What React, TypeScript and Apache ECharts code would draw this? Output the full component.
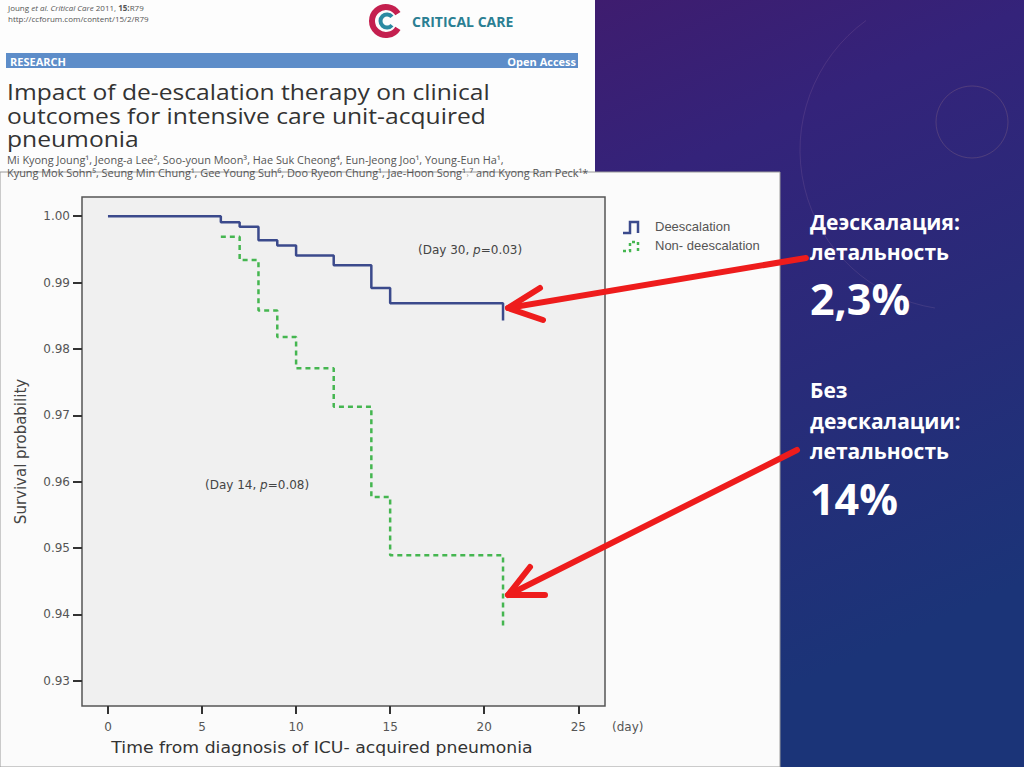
import React, { useEffect, useRef } from "react";
import * as echarts from "echarts";

const deescDays = [0, 6, 7, 8, 9, 10, 12, 14, 15, 21];
const deescSurv = [1.0, 0.9991, 0.9984, 0.9964, 0.9956, 0.9941, 0.9926, 0.9892, 0.9869, 0.9843];
const nonDays = [6, 7, 8, 9, 10, 12, 14, 15, 21];
const nonSurv = [0.9969, 0.9934, 0.9858, 0.9818, 0.9771, 0.9713, 0.9577, 0.9489, 0.9382];
const xTicks = [0, 5, 10, 15, 20, 25];
const yTicks = [0.93, 0.94, 0.95, 0.96, 0.97, 0.98, 0.99, 1.0];
const seriesNames = ["Deescalation", "Non- deescalation"];
const annotations = ["(Day 30, {i|p}=0.03)", "(Day 14, {i|p}=0.08)"];
const sideTexts = ["Деэскалация:", "летальность", "2,3%", "Без", "деэскалации:", "летальность", "14%"];
const titleLines = [
  "Impact of de-escalation therapy on clinical",
  "outcomes for intensive care unit-acquired",
  "pneumonia",
];
const authorLines = [
  "Mi Kyong Joung¹, Jeong-a Lee², Soo-youn Moon³, Hae Suk Cheong⁴, Eun-Jeong Joo¹, Young-Eun Ha¹,",
  "Kyung Mok Sohn⁵, Seung Min Chung¹, Gee Young Suh⁶, Doo Ryeon Chung¹, Jae-Hoon Song¹˒⁷ and Kyong Ran Peck¹*",
];

const BLUE = "#3b4a8c";
const GREEN = "#45b650";
const RED = "#ee1c1c";

export default function App() {
  const ref = useRef<HTMLDivElement>(null);
  useEffect(() => {
    document.body.style.margin = "0";
    const chart = echarts.init(ref.current!, null, { renderer: "svg" });
    const txt = (x: number, y: number, text: string, s: any = {}, extra: any = {}) => ({
      type: "text",
      x,
      y,
      z: 10,
      ...extra,
      style: { text, fill: "#333", textVerticalAlign: "middle", ...s },
    });
    const arrow = (tx: number, ty: number, fx: number, fy: number, w1: number[], w2: number[]) => [
      {
        type: "line",
        z: 200,
        shape: { x1: fx, y1: fy, x2: tx, y2: ty },
        style: { stroke: RED, lineWidth: 6, lineCap: "round" },
      },
      {
        type: "polyline",
        z: 200,
        shape: { points: [w1, [tx, ty], w2] },
        style: { stroke: RED, lineWidth: 6, lineCap: "round", lineJoin: "round", fill: null },
      },
    ];
    const graphic: any[] = [
      {
        type: "rect",
        z: -100,
        shape: { x: 0, y: 0, width: 1024, height: 767 },
        style: {
          fill: new echarts.graphic.LinearGradient(0, 0, 0.6, 1, [
            { offset: 0, color: "#4c1460" },
            { offset: 0.45, color: "#34237a" },
            { offset: 1, color: "#1b3478" },
          ]),
        },
      },
      {
        type: "circle",
        z: -90,
        shape: { cx: 972, cy: 122, r: 36 },
        style: { fill: null, stroke: "rgba(230,170,140,0.18)", lineWidth: 1 },
      },
      {
        type: "arc",
        z: -90,
        shape: { cx: 960, cy: 150, r: 160, startAngle: Math.PI * 0.55, endAngle: Math.PI * 1.3 },
        style: { fill: null, stroke: "rgba(230,170,200,0.12)", lineWidth: 1 },
      },
      {
        type: "rect",
        z: -80,
        shape: { x: 0, y: 0, width: 595, height: 173 },
        style: { fill: "#fdfdfd" },
      },
      {
        type: "rect",
        z: -80,
        shape: { x: 0, y: 172, width: 780, height: 595 },
        style: { fill: "#fbfbfb", stroke: "#9a9a9a", lineWidth: 1 },
      },
      // header
      txt(8, 7, "Joung {i|et al. Critical Care} 2011, {b|15:}R79", {
        font: "8px 'Open Sans'",
        fill: "#555",
        rich: {
          i: { fontStyle: "italic", fontSize: 8, fontFamily: "Open Sans" },
          b: { fontWeight: "bold", fontSize: 8, fontFamily: "Open Sans" },
        },
      }),
      txt(8, 18, "http://ccforum.com/content/15/2/R79", { font: "8px 'Open Sans'", fill: "#555" }),
      {
        type: "arc",
        z: 10,
        shape: { cx: 386, cy: 21, r: 14, startAngle: 0.55, endAngle: Math.PI * 2 - 0.55 },
        style: { stroke: "#c4204f", lineWidth: 6, fill: null },
      },
      {
        type: "arc",
        z: 10,
        shape: { cx: 387, cy: 21, r: 6.5, startAngle: 0.7, endAngle: Math.PI * 2 - 0.7 },
        style: { stroke: "#2b8aa2", lineWidth: 4, fill: null },
      },
      txt(412, 21, "CRITICAL CARE", { font: "bold 14px 'Open Sans'", fill: "#2b7f93" }),
      {
        type: "rect",
        z: 5,
        shape: { x: 6, y: 53, width: 572, height: 15 },
        style: { fill: "#5d8dc9" },
      },
      txt(10, 61, "RESEARCH", { font: "bold 11px 'Open Sans'", fill: "#ffffff" }),
      txt(576, 61, "Open Access", { font: "bold 11px 'Open Sans'", fill: "#ffffff", textAlign: "right" }),
      txt(
        7,
        80,
        titleLines.join("\n"),
        { font: "22px 'Open Sans'", fill: "#333", lineHeight: 23.5, textVerticalAlign: "top" },
        { scaleX: 1.12 }
      ),
      txt(
        7,
        154,
        authorLines.join("\n"),
        { font: "10.5px 'Open Sans'", fill: "#555", lineHeight: 13, textVerticalAlign: "top" },
        { scaleX: 1.04 }
      ),
      // chart extras
      txt(612, 727, "(day)", { font: "12px 'DejaVu Sans'", fill: "#555" }),
      txt(
        322,
        748,
        "Time from diagnosis of ICU- acquired pneumonia",
        { font: "15px 'DejaVu Sans'", fill: "#333", textAlign: "center" },
        { scaleX: 1.15 }
      ),
      txt(418, 250, annotations[0], {
        font: "12px 'DejaVu Sans'",
        fill: "#444",
        rich: { i: { fontStyle: "italic", fontSize: 12, fontFamily: "DejaVu Sans" } },
      }),
      txt(205, 485, annotations[1], {
        font: "12px 'DejaVu Sans'",
        fill: "#444",
        rich: { i: { fontStyle: "italic", fontSize: 12, fontFamily: "DejaVu Sans" } },
      }),
      {
        type: "polyline",
        z: 10,
        shape: { points: [[623, 233], [630, 233], [630, 222], [638, 222], [638, 233]] },
        style: { stroke: BLUE, lineWidth: 2.5, fill: null },
      },
      {
        type: "polyline",
        z: 10,
        shape: { points: [[623, 251], [630, 251], [630, 242], [638, 242], [638, 251]] },
        style: { stroke: GREEN, lineWidth: 2.5, fill: null, lineDash: [3, 3] },
      },
      txt(655, 226, seriesNames[0], { font: "13px 'Liberation Sans'", fill: "#555" }),
      txt(655, 245, seriesNames[1], { font: "13px 'Liberation Sans'", fill: "#555" }),
      // side texts
      txt(810, 222, sideTexts[0], { font: "bold 21px 'Open Sans'", fill: "#ffffff" }),
      txt(810, 252, sideTexts[1], { font: "bold 21px 'Open Sans'", fill: "#ffffff" }),
      txt(810, 298, sideTexts[2], { font: "bold 43px 'Open Sans'", fill: "#ffffff" }),
      txt(810, 390, sideTexts[3], { font: "bold 21px 'Open Sans'", fill: "#ffffff" }),
      txt(810, 421, sideTexts[4], { font: "bold 21px 'Open Sans'", fill: "#ffffff" }),
      txt(810, 451, sideTexts[5], { font: "bold 21px 'Open Sans'", fill: "#ffffff" }),
      txt(810, 498, sideTexts[6], { font: "bold 43px 'Open Sans'", fill: "#ffffff" }),
      ...arrow(508, 308, 806, 258, [540, 288], [543, 320]),
      ...arrow(508, 595, 797, 450, [530, 567], [545, 595]),
    ];

    chart.setOption({
      animation: false,
      grid: {
        left: 82,
        right: 1024 - 605,
        top: 197,
        bottom: 767 - 706,
        show: true,
        backgroundColor: "#f0f0f0",
        borderColor: "#555",
        borderWidth: 1.5,
        z: 0,
      },
      xAxis: {
        type: "value",
        min: -1.38,
        max: 26.42,
        axisLine: { show: false, onZero: false },
        splitLine: { show: false },
        axisTick: { show: true, customValues: xTicks, length: 8, lineStyle: { color: "#333", width: 2 } },
        axisLabel: {
          customValues: xTicks,
          margin: 15,
          fontFamily: "DejaVu Sans",
          fontSize: 12,
          color: "#555",
        },
      },
      yAxis: {
        type: "value",
        min: 0.9262,
        max: 1.0029,
        name: "Survival probability",
        nameLocation: "middle",
        nameGap: 54,
        nameTextStyle: { fontFamily: "DejaVu Sans", fontSize: 15, color: "#444" },
        axisLine: { show: false, onZero: false },
        splitLine: { show: false },
        axisTick: { show: true, customValues: yTicks, length: 9, lineStyle: { color: "#333", width: 2 } },
        axisLabel: {
          customValues: yTicks,
          margin: 12,
          fontFamily: "DejaVu Sans",
          fontSize: 12,
          color: "#555",
          formatter: (v: number) => v.toFixed(2),
        },
      },
      graphic,
      series: [
        {
          name: seriesNames[0],
          type: "line",
          step: "end",
          showSymbol: false,
          symbol: "none",
          data: deescDays.map((d, i) => [d, deescSurv[i]]),
          lineStyle: { color: BLUE, width: 2.5 },
          z: 5,
        },
        {
          name: seriesNames[1],
          type: "line",
          step: "end",
          showSymbol: false,
          symbol: "none",
          data: nonDays.map((d, i) => [d, nonSurv[i]]),
          lineStyle: { color: GREEN, width: 2.5, type: [5, 4] },
          z: 4,
        },
      ],
    });
    return () => chart.dispose();
  }, []);
  return <div ref={ref} style={{ width: 1024, height: 767 }} />;
}
